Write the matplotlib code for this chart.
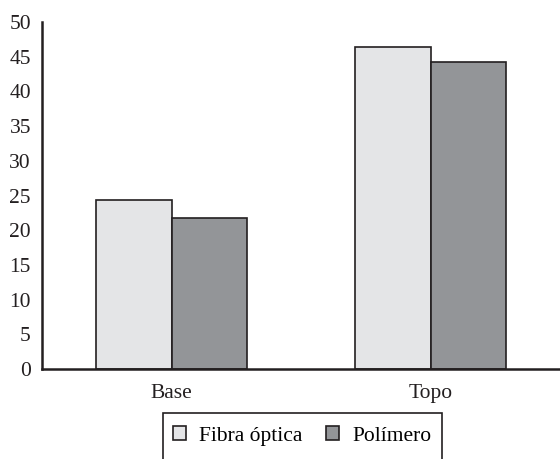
import numpy as np
import matplotlib.pyplot as plt
from matplotlib.patches import Rectangle

# data
categories = ['Base', 'Topo']
fibra = [24.4, 46.4]
polimero = [21.7, 44.2]
series_names = ['Fibra óptica', 'Polímero']

plt.rcParams['font.family'] = ['Liberation Serif', 'DejaVu Serif']

fig = plt.figure(figsize=(5.6, 4.59), dpi=100)
ax = fig.add_axes([0.075, 0.196, 0.925, 0.756])

x = np.arange(len(categories))
w = 0.29
edge = '#231f20'
b1 = ax.bar(x - w / 2, fibra, w, color='#e4e5e7', edgecolor=edge, linewidth=1.2, label=series_names[0])
b2 = ax.bar(x + w / 2, polimero, w, color='#939598', edgecolor=edge, linewidth=1.2, label=series_names[1])

ax.set_xlim(-0.5, 1.5)
ax.set_ylim(0, 50)
ax.set_yticks(range(0, 51, 5))
ax.set_xticks(x)
ax.set_xticklabels(categories)
ax.tick_params(length=0, labelsize=15.5, colors='#231f20', pad=8)
ax.tick_params(axis='x', pad=11)

for s in ['top', 'right']:
    ax.spines[s].set_visible(False)
for s in ['left', 'bottom']:
    ax.spines[s].set_linewidth(1.8)
    ax.spines[s].set_color('#231f20')

# legend box, open at the bottom of the image
fig.patches.append(Rectangle((0.291, -0.05), 0.498, 0.15, transform=fig.transFigure,
                             fill=False, edgecolor=edge, linewidth=1.2))
fig.legend(handles=[b1, b2], labels=series_names, loc='center', bbox_to_anchor=(0.54, 0.05),
           ncol=2, frameon=False, fontsize=15.5, handlelength=0.6, handleheight=0.6,
           handletextpad=0.6, columnspacing=1.1)

plt.savefig('out.png', dpi=100)
